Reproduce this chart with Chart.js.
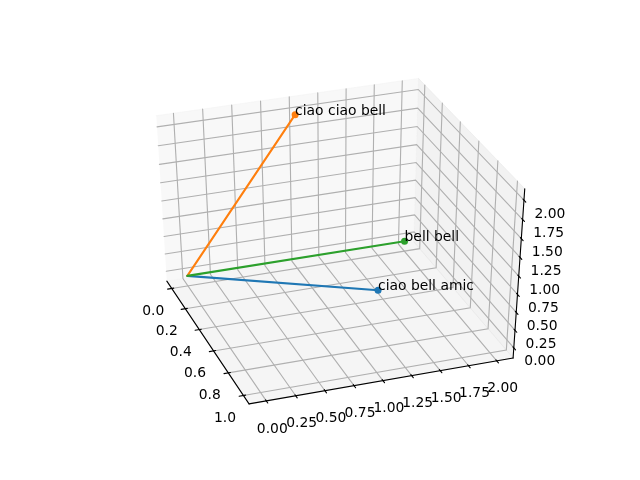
<!DOCTYPE html>
<html>
<head>
<meta charset="utf-8">
<script src="https://cdn.jsdelivr.net/npm/chart.js@4"></script>
<style>
  html, body { margin: 0; padding: 0; background: #fff; }
  canvas { display: block; }
</style>
</head>
<body>
<canvas id="chart" width="640" height="480"></canvas>
<script>
// Data
const seriesNames = ['ciao bell amic', 'ciao ciao bell', 'bell bell'];
const seriesX = [1, 0, 0];
const seriesY = [1, 1, 2];
const seriesZ = [1, 2, 0];
const seriesColors = ['#1f77b4', '#ff7f0e', '#2ca02c'];

const xTicks = [0, 0.2, 0.4, 0.6, 0.8, 1];
const yTicks = [0, 0.25, 0.5, 0.75, 1, 1.25, 1.5, 1.75, 2];
const zTicks = [0, 0.25, 0.5, 0.75, 1, 1.25, 1.5, 1.75, 2];
const xTickLabels = ['0.0', '0.2', '0.4', '0.6', '0.8', '1.0'];
const yTickLabels = ['0.00', '0.25', '0.50', '0.75', '1.00', '1.25', '1.50', '1.75', '2.00'];
const zTickLabels = yTickLabels;

const xLim = [-0.05, 1.05];
const yLim = [-0.1, 2.1];
const zLim = [-0.1, 2.1];

// Camera, same model as an mplot3d axes
const elev = 36.5 * Math.PI / 180;
const azim = -19.6 * Math.PI / 180;
const dist = 10;

const n = [Math.cos(elev) * Math.cos(azim), Math.cos(elev) * Math.sin(azim), Math.sin(elev)];
const nh = Math.hypot(n[0], n[1]);
const u = [-n[1] / nh, n[0] / nh, 0];
const v = [n[1] * u[2] - n[2] * u[1], n[2] * u[0] - n[0] * u[2], n[0] * u[1] - n[1] * u[0]];

function dot(a, b) {
  return a[0] * b[0] + a[1] * b[1] + a[2] * b[2];
}

function project(x, y, z) {
  const p = [
    (x - xLim[0]) / (xLim[1] - xLim[0]) - 0.5,
    (y - yLim[0]) / (yLim[1] - yLim[0]) - 0.5,
    (z - zLim[0]) / (zLim[1] - zLim[0]) - 0.5,
  ];
  const depth = dist - dot(n, p);
  return { x: dot(u, p) / depth, y: dot(v, p) / depth };
}

// pane limits sit 1/48 of the range outside the axis limits
const pad = (lim) => (lim[1] - lim[0]) / 48;
const x0 = xLim[0] - pad(xLim), x1 = xLim[1] + pad(xLim);
const y0 = yLim[0] - pad(yLim), y1 = yLim[1] + pad(yLim);
const z0 = zLim[0] - pad(zLim), z1 = zLim[1] + pad(zLim);
const xDelta = (xLim[1] - xLim[0]) / 12;
const yDelta = (yLim[1] - yLim[0]) / 12;

function path(points, color, width) {
  return {
    data: points.map((p) => project(p[0], p[1], p[2])),
    showLine: true,
    borderColor: color,
    borderWidth: width,
    pointRadius: 0,
    fill: false,
    clip: false,
    borderCapStyle: 'round',
  };
}

function pane(points, color) {
  const ds = path(points, color, 1);
  ds.fill = 'shape';
  ds.backgroundColor = color;
  return ds;
}

const layers = [];

// Panes
layers.push(pane([[x0, y0, z0], [x1, y0, z0], [x1, y1, z0], [x0, y1, z0]], 'rgba(236,236,236,0.5)'));
layers.push(pane([[x0, y0, z0], [x0, y1, z0], [x0, y1, z1], [x0, y0, z1]], 'rgba(242,242,242,0.5)'));
layers.push(pane([[x0, y1, z0], [x1, y1, z0], [x1, y1, z1], [x0, y1, z1]], 'rgba(230,230,230,0.5)'));

// Grid
const gridColor = '#b0b0b0';
xTicks.forEach((t) => layers.push(path([[t, y0, z0], [t, y1, z0], [t, y1, z1]], gridColor, 1.11)));
yTicks.forEach((t) => layers.push(path([[x1, t, z0], [x0, t, z0], [x0, t, z1]], gridColor, 1.11)));
zTicks.forEach((t) => layers.push(path([[x1, y1, t], [x0, y1, t], [x0, y0, t]], gridColor, 1.11)));

// Axis lines and tick marks
layers.push(path([[x0, y0, z0], [x1, y0, z0]], '#000', 1.11));
layers.push(path([[x1, y0, z0], [x1, y1, z0]], '#000', 1.11));
layers.push(path([[x1, y1, z0], [x1, y1, z1]], '#000', 1.11));
xTicks.forEach((t) => layers.push(path([[t, y0 - 0.2 * yDelta, z0], [t, y0 + 0.1 * yDelta, z0]], '#000', 1.11)));
yTicks.forEach((t) => layers.push(path([[x1 + 0.2 * xDelta, t, z0], [x1 - 0.1 * xDelta, t, z0]], '#000', 1.11)));
zTicks.forEach((t) => layers.push(path([[x1 + 0.2 * xDelta, y1, t], [x1 - 0.1 * xDelta, y1, t]], '#000', 1.11)));

// Series: a line from the origin with a dot at the far end
seriesNames.forEach((name, i) => {
  const ds = path([[0, 0, 0], [seriesX[i], seriesY[i], seriesZ[i]]], seriesColors[i], 2.08);
  ds.label = name;
  ds.pointRadius = [0, 3.5];
  ds.pointBackgroundColor = seriesColors[i];
  ds.pointBorderWidth = 0;
  layers.push(ds);
});

// Chart.js paints the first dataset on top
const datasets = layers.reverse();

// Texts
const textPlugin = {
  id: 'texts',
  afterDraw(chart) {
    const ctx = chart.ctx;
    const sx = chart.scales.x;
    const sy = chart.scales.y;
    ctx.save();
    ctx.font = '13.89px "DejaVu Sans"';
    ctx.fillStyle = '#000';

    function label(text, pos, dx, dy) {
      ctx.fillText(text, sx.getPixelForValue(pos.x) + dx, sy.getPixelForValue(pos.y) + dy);
    }

    ctx.textAlign = 'center';
    ctx.textBaseline = 'middle';
    xTicks.forEach((t, i) => label(xTickLabels[i], project(t, y0, z0), -18.5, 22.5));
    yTicks.forEach((t, i) => label(yTickLabels[i], project(x1, t, z0), 6, 28));
    zTicks.forEach((t, i) => label(zTickLabels[i], project(x1, y1, t), 26, 14));

    ctx.textAlign = 'left';
    ctx.textBaseline = 'alphabetic';
    seriesNames.forEach((name, i) => label(name, project(seriesX[i], seriesY[i], seriesZ[i]), 0, 0));
    ctx.restore();
  },
};

new Chart(document.getElementById('chart'), {
  type: 'scatter',
  data: { datasets: datasets },
  options: {
    responsive: false,
    animation: false,
    devicePixelRatio: 1,
    layout: { padding: { left: 81, right: 63, top: 52.8, bottom: 52.8 } },
    plugins: { legend: { display: false }, tooltip: { enabled: false } },
    scales: {
      x: { type: 'linear', min: -0.095, max: 0.09, display: false },
      y: { type: 'linear', min: -0.09498, max: 0.09252, display: false },
    },
  },
  plugins: [textPlugin],
});
</script>
</body>
</html>
